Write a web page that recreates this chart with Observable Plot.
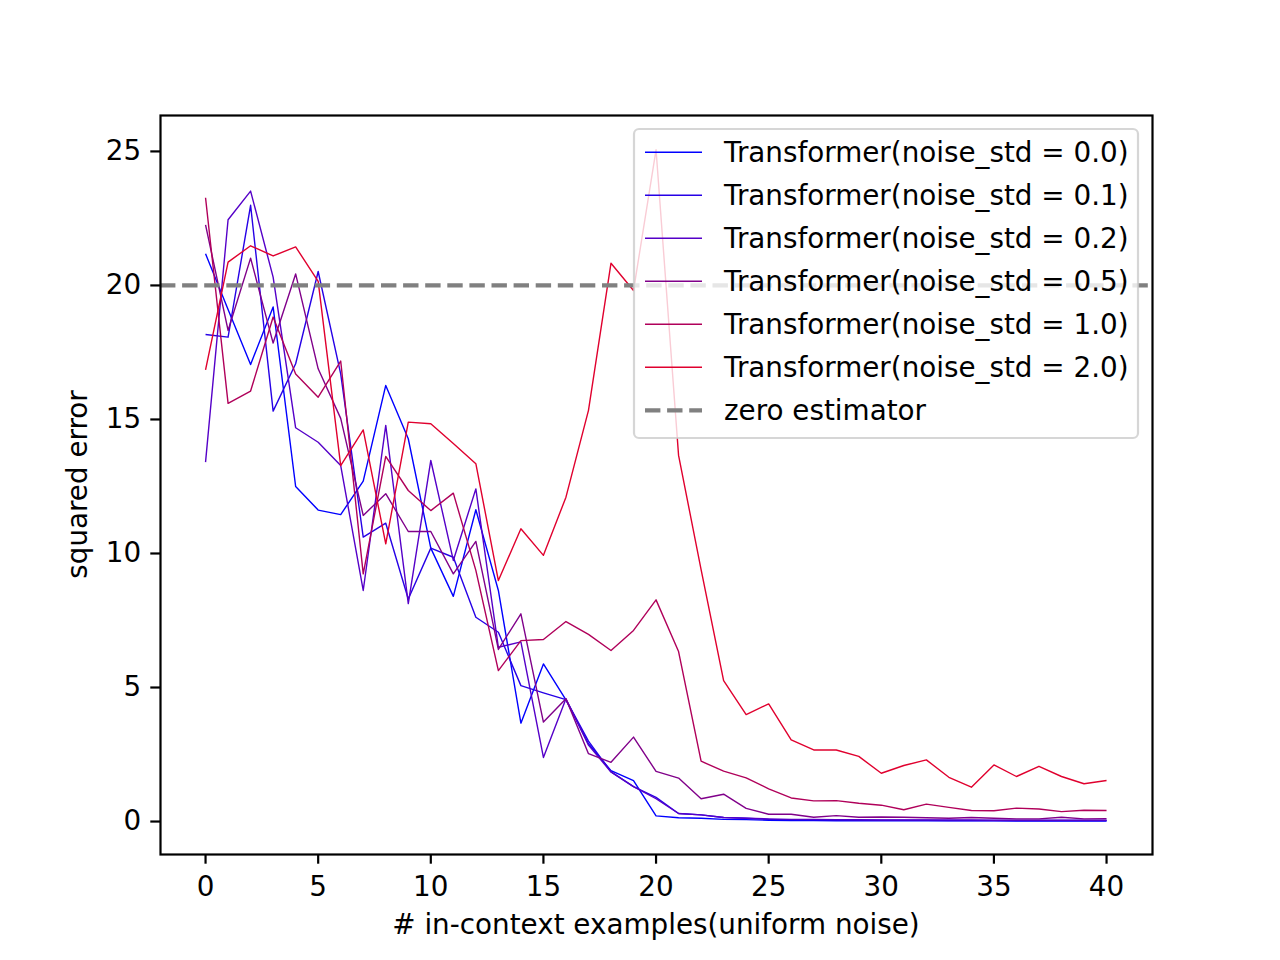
<!DOCTYPE html>
<html><head><meta charset="utf-8">
<script src="https://cdn.jsdelivr.net/npm/d3@7"></script>
<script src="https://cdn.jsdelivr.net/npm/@observablehq/plot@0.6"></script>
<style>html,body{margin:0;padding:0;background:#fff}#chart{width:1280px;height:960px}</style>
</head><body><div id="chart"></div>
<script>
// ---- data ----
const examples = [0,1,2,3,4,5,6,7,8,9,10,11,12,13,14,15,16,17,18,19,20,21,22,23,24,25,26,27,28,29,30,31,32,33,34,35,36,37,38,39,40];
const seriesLabels = [
  "Transformer(noise_std = 0.0)",
  "Transformer(noise_std = 0.1)",
  "Transformer(noise_std = 0.2)",
  "Transformer(noise_std = 0.5)",
  "Transformer(noise_std = 1.0)",
  "Transformer(noise_std = 2.0)"
];
const seriesColors = ["#0000ff", "#2600e6", "#5500c8", "#80008a", "#b0005a", "#e0002e"];
const noise00 = [21.18,19.1,17.05,19.2,12.5,11.62,11.45,12.7,16.27,14.28,10.2,8.4,11.63,8.62,3.67,5.88,4.54,2.9,1.9,1.53,0.21,0.14,0.12,0.08,0.07,0.05,0.04,0.04,0.03,0.03,0.03,0.03,0.03,0.03,0.03,0.03,0.02,0.02,0.02,0.02,0.02];
const noise01 = [18.17,18.07,22.99,15.31,17.08,20.52,16.7,10.61,11.13,8.3,10.2,9.86,7.62,7.06,5.07,4.8,4.55,3.0,1.85,1.3,0.9,0.3,0.25,0.15,0.12,0.08,0.07,0.06,0.06,0.05,0.05,0.05,0.05,0.04,0.04,0.04,0.04,0.04,0.04,0.04,0.04];
const noise02 = [13.41,22.45,23.52,20.31,14.69,14.15,13.28,8.62,14.78,8.13,13.47,9.74,12.41,6.5,6.7,2.39,4.58,2.85,1.85,1.3,0.85,0.3,0.25,0.15,0.12,0.1,0.08,0.08,0.07,0.07,0.06,0.06,0.06,0.06,0.06,0.05,0.05,0.05,0.05,0.05,0.05];
const noise05 = [22.26,18.32,21.02,17.85,20.43,16.89,15.04,11.42,12.23,10.82,10.82,9.24,10.45,6.42,7.75,3.71,4.58,2.53,2.21,3.15,1.87,1.62,0.85,1.02,0.49,0.27,0.27,0.16,0.22,0.16,0.17,0.16,0.14,0.12,0.15,0.12,0.1,0.1,0.16,0.1,0.11];
const noise10 = [23.27,15.6,16.06,18.82,16.7,15.83,17.18,9.24,13.62,12.35,11.6,12.25,9.37,5.63,6.75,6.79,7.46,6.98,6.38,7.13,8.27,6.34,2.25,1.88,1.63,1.22,0.88,0.77,0.78,0.68,0.61,0.44,0.65,0.53,0.41,0.4,0.5,0.47,0.37,0.42,0.41];
const noise20 = [16.85,20.87,21.48,21.1,21.44,20.15,13.28,14.61,10.36,14.9,14.84,14.1,13.35,8.99,10.92,9.93,12.1,15.34,20.83,19.81,25.06,13.66,9.4,5.26,3.99,4.39,3.05,2.67,2.67,2.43,1.8,2.09,2.3,1.65,1.28,2.11,1.68,2.06,1.68,1.41,1.53];
const zeroEstimator = 20;
const zeroLabel = "zero estimator";
const xTicks = [0,5,10,15,20,25,30,35,40];
const yTicks = [0,5,10,15,20,25];
const xLabel = "# in-context examples(uniform noise)";
const yLabel = "squared error";

const allSeries = [noise00, noise01, noise02, noise05, noise10, noise20];
const rows = [];
allSeries.forEach((vals, k) => vals.forEach((v, i) => rows.push({x: examples[i], y: v, series: seriesLabels[k]})));

// ---- layout ----
const W = 1280, H = 960, mL = 160, mR = 128, mT = 115, mB = 106;
const fs = 27.8;
const font = "DejaVu Sans";

const chart = Plot.plot({
  width: W, height: H,
  marginLeft: mL, marginRight: mR, marginTop: mT, marginBottom: mB,
  style: {fontFamily: font, fontSize: fs + "px", background: "white", color: "black", overflow: "visible"},
  x: {domain: [-2.0, 42.04]},
  y: {domain: [-1.23, 26.34]},
  color: {domain: seriesLabels, range: seriesColors},
  marks: [
    Plot.line(rows, {x: "x", y: "y", z: "series", stroke: "series", strokeWidth: 1.4, strokeLinejoin: "round", strokeLinecap: "butt"}),
    Plot.ruleY([zeroEstimator], {stroke: "#808080", strokeWidth: 4.2, strokeDasharray: "15.4,6.7"}),
    Plot.frame({stroke: "black", strokeWidth: 2.2}),
    Plot.axisX({ticks: xTicks, tickSize: 9.7, tickPadding: 12.5, strokeWidth: 2.2, fontSize: fs, label: null, tickFormat: d => String(d)}),
    Plot.axisY({ticks: yTicks, tickSize: 9.7, tickPadding: 9.7, strokeWidth: 2.2, fontSize: fs, label: null, tickFormat: d => String(d)})
  ]
});
document.getElementById("chart").appendChild(chart);

const svg = d3.select(chart);
// axis labels
svg.append("text").attr("x", mL + (W - mL - mR) / 2).attr("y", 934)
  .attr("text-anchor", "middle").attr("font-family", font).attr("font-size", fs).attr("fill", "black")
  .text(xLabel);
svg.append("text").attr("transform", `translate(87,${mT + (H - mT - mB) / 2}) rotate(-90)`)
  .attr("text-anchor", "middle").attr("font-family", font).attr("font-size", fs).attr("fill", "black")
  .text(yLabel);

// legend
const lg = svg.append("g");
lg.append("rect").attr("x", 634).attr("y", 129).attr("width", 504).attr("height", 309)
  .attr("rx", 5).attr("fill", "white").attr("fill-opacity", 0.8)
  .attr("stroke", "#cccccc").attr("stroke-opacity", 0.8).attr("stroke-width", 2.2);
const entries = seriesLabels.map((l, i) => ({label: l, color: seriesColors[i], dash: null, w: 1.4}))
  .concat([{label: zeroLabel, color: "#808080", dash: "15.4,6.7", w: 4.2}]);
entries.forEach((e, i) => {
  const y = 152.3 + i * 43;
  lg.append("line").attr("x1", 645).attr("x2", 702).attr("y1", y).attr("y2", y)
    .attr("stroke", e.color).attr("stroke-width", e.w).attr("stroke-dasharray", e.dash);
  lg.append("text").attr("x", 724).attr("y", y + 9.5).attr("text-anchor", "start")
    .attr("font-family", font).attr("font-size", fs).attr("fill", "black").text(e.label);
});
</script>
</body></html>
